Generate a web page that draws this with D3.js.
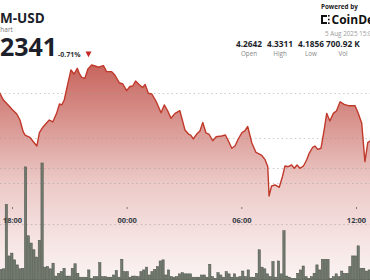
<!DOCTYPE html>
<html>
<head>
<meta charset="utf-8">
<script src="https://cdn.jsdelivr.net/npm/d3@7"></script>
<style>
  body { margin: 0; background: #fff; overflow: hidden; }
  svg { display: block; font-family: "Open Sans", "Noto Sans", sans-serif; }
</style>
</head>
<body>
<div id="chart"></div>
<script>
var svgWidth = 370;
var svgHeight = 280;

// price line (UTC, 4-5 Aug 2025)
var priceTimes = ["17:13","17:22","17:33","17:48","17:59","18:15","18:25","18:35","18:41","18:56",
  "19:07","19:18","19:26","19:38","19:57","20:08","20:20","20:29","20:36","20:44",
  "20:52","21:05","21:15","21:25","21:31","21:39","21:49","21:58","22:10","22:21",
  "22:31","22:47","22:57","23:13","23:23","23:37","23:48","00:00","00:10","00:19",
  "00:28","00:39","00:50","00:58","01:08","01:19","01:32","01:48","01:58","02:09",
  "02:19","02:32","02:47","03:03","03:14","03:21","03:29","03:40","03:50","03:59",
  "04:09","04:19","04:30","04:41","04:58","05:10","05:18","05:30","05:40","05:50",
  "06:02","06:11","06:20","06:33","06:46","07:03","07:14","07:23","07:27","07:35",
  "07:46","07:59","08:09","08:17","08:27","08:38","08:46","08:55","09:04","09:15",
  "09:25","09:33","09:44","09:51","10:00","10:10","10:20","10:28","10:38","10:49",
  "10:59","11:10","11:23","11:36","11:57","12:07","12:18","12:28","12:37","12:44","12:53"];
var prices = [4.3056,4.2997,4.2922,4.2867,4.2822,4.2767,4.2700,4.2570,4.2533,4.2508,
  4.2459,4.2411,4.2559,4.2626,4.2700,4.2678,4.2774,4.2878,4.2867,4.2922,
  4.3052,4.3256,4.3211,4.3274,4.3219,4.3174,4.3163,4.3263,4.3311,4.3300,
  4.3286,4.3305,4.3237,4.3237,4.3200,4.3114,4.3100,4.3026,4.3072,4.3078,
  4.3133,4.3094,4.3061,4.3094,4.2997,4.2989,4.2911,4.2781,4.2867,4.2800,
  4.2719,4.2774,4.2803,4.2589,4.2544,4.2533,4.2489,4.2544,4.2578,4.2672,
  4.2556,4.2539,4.2470,4.2514,4.2522,4.2533,4.2478,4.2386,4.2411,4.2486,
  4.2561,4.2578,4.2628,4.2444,4.2339,4.2311,4.2263,4.2181,4.1856,4.1967,
  4.1978,4.1952,4.2070,4.2189,4.2181,4.2200,4.2163,4.2200,4.2163,4.2189,
  4.2256,4.2330,4.2397,4.2411,4.2374,4.2386,4.2589,4.2774,4.2689,4.2774,
  4.2803,4.2903,4.2874,4.2859,4.2859,4.2774,4.2663,4.2237,4.2448,4.2467,4.2467];

// volume bars (thousands), one every volStepMin minutes from volStart
var volStart = "17:25";
var volStepMin = 8.63;
var volumes = [1.9,2.0,13.5,4.3,4.8,3.6,2.7,2.0,2.1,20.2,
  7.9,6.6,5.4,4.1,7.1,20.9,2.3,2.4,2.0,3.0,
  0.7,1.2,1.5,2.1,0.7,0.7,2.1,2.9,1.2,0.5,
  0.5,0.5,1.8,0.3,0.6,0.6,3.1,0.6,0.6,0.5,
  0.5,0.9,1.7,0.5,3.7,1.5,1.5,0.5,0.7,0.7,
  0.6,1.5,1.8,2.3,0.9,1.5,1.9,2.4,3.4,3.6,
  0.9,1.8,0.6,0.5,0.6,1.1,1.3,1.1,1.1,1.1,
  0.5,0.5,0.5,0.9,0.9,0.5,2.8,0.6,0.3,1.3,
  0.9,0.5,1.5,1.1,0.5,1.1,0.5,0.6,1.6,0.6,
  1.8,0.5,0.5,1.2,5.4,2.3,2.0,1.1,0.6,3.3,
  0.5,3.4,1.1,8.8,0.7,0.5,0.3,0.3,1.2,1.8,
  2.5,0.6,0.3,0.6,1.2,2.7,1.8,3.7,3.7,3.7,
  0.3,0.6,1.1,0.6,1.6,1.2,1.2,2.4,4.3,4.3,
  6.1,2.1,2.1,1.6,1.8];

var xTicks = ["18:00", "00:00", "06:00", "12:00"];
var priceGrid = [4.20, 4.25, 4.30];
var volGrid = [10, 20];

var statValues = ["4.2642", "4.3311", "4.1856", "700.92 K"];
var statLabels = ["Open", "High", "Low", "Vol"];

// times from 15:00 on belong to 4 Aug, the rest to 5 Aug
function toDate(s) {
  var p = s.split(":").map(Number);
  return new Date(2025, 7, p[0] >= 15 ? 4 : 5, p[0], p[1]);
}

var svg = d3.select("#chart")
  .append("svg")
  .attr("width", svgWidth)
  .attr("height", svgHeight);

var x = d3.scaleTime()
  .domain([toDate("18:00"), toDate("12:00")])
  .range([12, 356]);

var yPrice = d3.scaleLinear()
  .domain([4.20, 4.30])
  .range([183, 93]);

var yVol = d3.scaleLinear()
  .domain([0, 20])
  .range([280, 168]);

var priceData = priceTimes.map(function(t, i) {
  return { date: toDate(t), price: prices[i] };
});

var t0 = toDate(volStart);
var volData = volumes.map(function(v, i) {
  return { date: new Date(t0.getTime() + i * volStepMin * 60000), vol: v };
});

// gradient under the price line
var defs = svg.append("defs");
var grad = defs.append("linearGradient")
  .attr("id", "areaFill")
  .attr("gradientUnits", "userSpaceOnUse")
  .attr("x1", 0).attr("x2", 0)
  .attr("y1", 65).attr("y2", 280);
[[0, 0.78], [0.35, 0.46], [0.55, 0.27], [0.85, 0.12], [1, 0.06]].forEach(function(s) {
  grad.append("stop")
    .attr("offset", s[0])
    .attr("stop-color", "#b83a30")
    .attr("stop-opacity", s[1]);
});

var area = d3.area()
  .x(function(d) { return x(d.date); })
  .y0(svgHeight)
  .y1(function(d) { return yPrice(d.price); });

var line = d3.line()
  .x(function(d) { return x(d.date); })
  .y(function(d) { return yPrice(d.price); });

svg.append("path")
  .datum(priceData)
  .attr("d", area)
  .attr("fill", "url(#areaFill)");

// dotted grid lines
var gridGroup = svg.append("g")
  .attr("stroke", "#9a9a9a")
  .attr("stroke-opacity", 0.55)
  .attr("stroke-dasharray", "1.4,3")
  .attr("stroke-width", 1);

gridGroup.selectAll(".pg")
  .data(priceGrid)
  .enter()
  .append("line")
  .attr("x1", 0).attr("x2", svgWidth)
  .attr("y1", function(d) { return Math.round(yPrice(d)) + 0.5; })
  .attr("y2", function(d) { return Math.round(yPrice(d)) + 0.5; });

gridGroup.selectAll(".vg")
  .data(volGrid)
  .enter()
  .append("line")
  .attr("x1", 0).attr("x2", svgWidth)
  .attr("y1", function(d) { return Math.round(yVol(d)) + 0.5; })
  .attr("y2", function(d) { return Math.round(yVol(d)) + 0.5; });

svg.append("path")
  .datum(priceData)
  .attr("d", line)
  .attr("fill", "none")
  .attr("stroke", "#c0392b")
  .attr("stroke-width", 1.4)
  .attr("stroke-linejoin", "round");

// volume bars
var barW = 2.3;
svg.append("g")
  .selectAll("rect")
  .data(volData)
  .enter()
  .append("rect")
  .attr("x", function(d) { return x(d.date) - barW / 2; })
  .attr("y", function(d) { return yVol(d.vol); })
  .attr("width", barW)
  .attr("height", function(d) { return yVol(0) - yVol(d.vol); })
  .attr("fill", "#727a6f")
  .attr("stroke", "#485046")
  .attr("stroke-width", 0.5);

// time axis
var xAxis = d3.axisBottom(x)
  .tickValues(xTicks.map(toDate))
  .tickFormat(d3.timeFormat("%H:%M"))
  .tickSize(2)
  .tickPadding(9);

var xAxisGroup = svg.append("g")
  .attr("transform", "translate(0, 207)")
  .call(xAxis);
xAxisGroup.select(".domain").remove();
xAxisGroup.selectAll(".tick line").attr("stroke", "#777");
xAxisGroup.selectAll(".tick text")
  .attr("font-family", "'Open Sans', sans-serif")
  .attr("font-size", 7.5)
  .attr("font-weight", 700)
  .attr("fill", "#373c47");

// header, left side (cut off by the window edge)
function cutText(full, hidden, xVisible, y, size, weight, color) {
  var probe = svg.append("text")
    .attr("font-size", size).attr("font-weight", weight)
    .text(hidden);
  var w = probe.node().getComputedTextLength();
  probe.remove();
  return svg.append("text")
    .attr("x", xVisible - w)
    .attr("y", y)
    .attr("font-size", size)
    .attr("font-weight", weight)
    .attr("fill", color)
    .text(full);
}

cutText("ATOM-USD", "ATO", 0, 22.5, 13.5, 700, "#1d1f2b");
cutText("Price Chart", "Price C", 0.3, 31.5, 6.5, 400, "#777");
cutText("4.2341", "4.", 0, 55.5, 25, 700, "#1d1f2b");

svg.append("text")
  .attr("x", 58).attr("y", 57)
  .attr("font-size", 7).attr("font-weight", 700)
  .attr("fill", "#333")
  .text("-0.71%");

svg.append("path")
  .attr("d", "M85.5,51.5 L91.5,51.5 L88.5,57.2 Z")
  .attr("fill", "#c62828");

// header, right side
svg.append("text")
  .attr("x", 321).attr("y", 8.8)
  .attr("font-size", 6.3).attr("font-weight", 700)
  .attr("fill", "#222")
  .text("Powered by");

var logo = svg.append("g").attr("fill", "#111");
logo.append("path")
  .attr("d", "M321,15 h6 v2 h-4 v5 h4 v2 h-6 Z");
logo.append("rect").attr("x", 328).attr("y", 15).attr("width", 1.6).attr("height", 1.6);
logo.append("rect").attr("x", 328).attr("y", 18.7).attr("width", 1.6).attr("height", 1.6);
logo.append("rect").attr("x", 328).attr("y", 22.4).attr("width", 1.6).attr("height", 1.6);

svg.append("text")
  .attr("x", 331.5).attr("y", 24)
  .attr("font-size", 12).attr("font-weight", 700)
  .attr("fill", "#111")
  .text("CoinDesk");

svg.append("text")
  .attr("x", 325).attr("y", 36)
  .attr("font-size", 6.3)
  .attr("fill", "#9a9a9a")
  .text("5 Aug 2025 15:04 UTC");

var statX = [249, 280, 311, 343];
svg.selectAll(".stat-val")
  .data(statValues)
  .enter()
  .append("text")
  .attr("x", function(d, i) { return statX[i]; })
  .attr("y", 47)
  .attr("text-anchor", "middle")
  .attr("font-size", 8.3).attr("font-weight", 700)
  .attr("fill", "#1d1f2b")
  .text(function(d) { return d; });

svg.selectAll(".stat-lab")
  .data(statLabels)
  .enter()
  .append("text")
  .attr("x", function(d, i) { return statX[i]; })
  .attr("y", 55.5)
  .attr("text-anchor", "middle")
  .attr("font-size", 6.3)
  .attr("fill", "#888")
  .text(function(d) { return d; });
</script>
</body>
</html>
